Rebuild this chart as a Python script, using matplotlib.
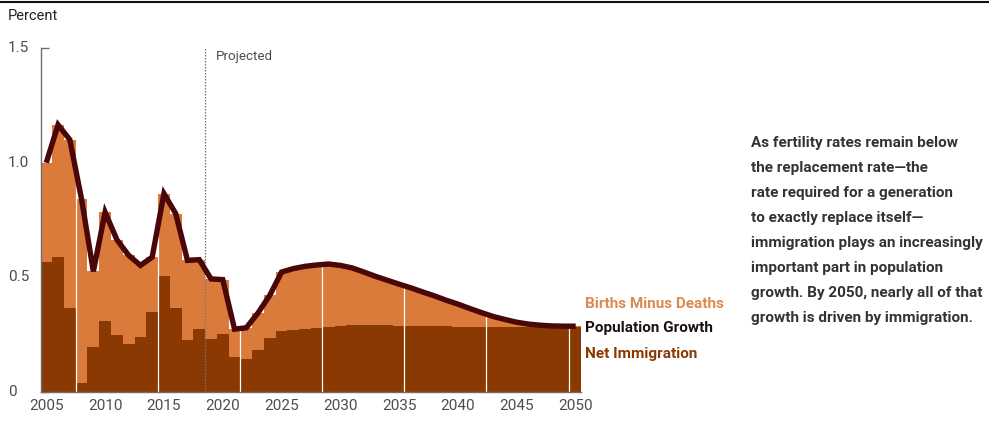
import matplotlib
matplotlib.use("Agg")
import matplotlib.pyplot as plt
import numpy as np
from matplotlib.lines import Line2D

years = list(range(2005, 2051))

population_growth = [
    1.00, 1.165, 1.10, 0.84, 0.526, 0.784, 0.664, 0.596, 0.552, 0.588,
    0.865, 0.778, 0.574, 0.577, 0.493, 0.490, 0.274, 0.280, 0.345, 0.422,
    0.523, 0.538, 0.548, 0.554, 0.558, 0.552, 0.541, 0.523, 0.504, 0.487,
    0.470, 0.454, 0.436, 0.419, 0.400, 0.383, 0.364, 0.346, 0.329, 0.316,
    0.304, 0.296, 0.291, 0.288, 0.287, 0.287,
]

net_immigration = [
    0.567, 0.588, 0.368, 0.038, 0.197, 0.310, 0.248, 0.209, 0.240, 0.351,
    0.504, 0.368, 0.226, 0.275, 0.232, 0.252, 0.153, 0.146, 0.183, 0.236,
    0.265, 0.270, 0.274, 0.278, 0.283, 0.287, 0.290, 0.291, 0.291, 0.290,
    0.288, 0.287, 0.287, 0.286, 0.286, 0.285, 0.285, 0.284, 0.284, 0.284,
    0.284, 0.284, 0.284, 0.284, 0.284, 0.284,
]

births_minus_deaths = [max(t - n, 0.0) for t, n in zip(population_growth, net_immigration)]

y_ticks = [0, 0.5, 1.0, 1.5]
y_tick_labels = ["0", "0.5", "1.0", "1.5"]
x_ticks = list(range(2005, 2051, 5))
x_tick_labels = [str(v) for v in x_ticks]

projected_start = 2018.47
gap_lines = [2007.54, 2014.49, 2021.44, 2028.45, 2035.42, 2042.40, 2049.40]

ORANGE = "#DA7B3B"
DARK = "#8A3903"
LINE = "#4A0707"
GRAY = "#4d4d4d"

plt.rcParams['font.family'] = ['Roboto', 'DejaVu Sans']

fig = plt.figure(figsize=(9.89, 4.21), dpi=100)
W, H = 989, 421
x0px, x1px = 41, 581
y0px, y1px = 392, 48
ax = fig.add_axes([x0px / W, 1 - y0px / H, (x1px - x0px) / W, (y0px - y1px) / H])

yr = np.array(years, dtype=float)
tot = np.array(population_growth)
ax.bar(yr, net_immigration, width=1.0, color=DARK, linewidth=0, zorder=2)
ax.bar(yr, births_minus_deaths, width=1.0, bottom=net_immigration, color=ORANGE, linewidth=0, zorder=2)

# thin white separators inside the bars
for g in gap_lines:
    top = np.interp(g, yr, tot)
    ax.vlines(g, 0, top, colors="white", linewidth=0.9, zorder=3)

ax.plot(yr, population_growth, color=LINE, linewidth=3.9, solid_joinstyle="miter",
        solid_capstyle="butt", zorder=5)

ax.axvline(projected_start, ymin=0, ymax=1, color="#777777", linestyle=(0, (1.2, 1.2)),
           linewidth=0.9, zorder=4)
ax.text(projected_start + 0.95, 1.465, "Projected", fontsize=9.6, color=GRAY, va="center", ha="left")

ax.set_xlim(2004.55, 2050.45)
ax.set_ylim(0, 1.5)

for s in ["top", "right"]:
    ax.spines[s].set_visible(False)
for s in ["left", "bottom"]:
    ax.spines[s].set_color("#6e6e6e")
    ax.spines[s].set_linewidth(1.0)
    ax.spines[s].set_zorder(6)

ax.set_yticks(y_ticks)
ax.set_yticklabels([])
ax.set_xticks(x_ticks)
ax.set_xticklabels(x_tick_labels, fontsize=11, color=GRAY)
ax.tick_params(axis="x", direction="in", length=4, width=0.8, color="#6e6e6e", pad=5)
ax.tick_params(axis="y", direction="in", length=6, width=1.0, color="#6e6e6e")

for v, lab in zip(y_ticks, y_tick_labels):
    ypx = y0px - (y0px - y1px) * v / 1.5
    fig.text(8 / W, 1 - ypx / H, lab, fontsize=11, color=GRAY, ha="left", va="center")

fig.text(8 / W, 1 - 16 / H, "Percent", fontsize=10.5, color="#222222", ha="left", va="center")

fig.add_artist(Line2D([0, 1], [1 - 2 / H, 1 - 2 / H], color="#111111", linewidth=1.5))

fig.text(585 / W, 1 - 304 / H, "Births Minus Deaths", fontsize=11, fontweight="bold",
         color="#DC8A50", ha="left", va="center")
fig.text(585 / W, 1 - 328 / H, "Population Growth", fontsize=11, fontweight="bold",
         color="#1a1010", ha="left", va="center")
fig.text(585 / W, 1 - 354 / H, "Net Immigration", fontsize=11, fontweight="bold",
         color=DARK, ha="left", va="center")

note_lines = [
    "As fertility rates remain below",
    "the replacement rate\u2014the",
    "rate required for a generation",
    "to exactly replace itself\u2014",
    "immigration plays an increasingly",
    "important part in population",
    "growth. By 2050, nearly all of that",
    "growth is driven by immigration.",
]
for i, line in enumerate(note_lines):
    ypx = 143.3 + i * 25.0
    fig.text(751 / W, 1 - ypx / H, line, fontsize=10.95, fontweight="bold",
             color="#333333", ha="left", va="center")

fig.savefig("out.png", dpi=100)
